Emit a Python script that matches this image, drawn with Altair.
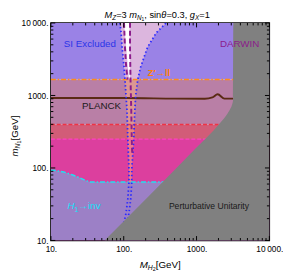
import altair as alt
import pandas as pd

W, H = 224, 223
FONT = "Liberation Sans"

# ---------------- data (GeV) ----------------
x_dom = [10, 10000]
y_dom = [10, 10000]

# horizontal exclusion bands in m_N1
band_lo = [1659, 399, 250, 10]
band_hi = [10000, 1659, 399, 250]
band_col = ["#9a82e6", "#b97fa6", "#d25c78", "#dc3f9e"]

# H1 -> inv boundary
inv_x = [10, 11, 15, 20, 25, 30, 35, 10000]
inv_y = [93, 93, 88, 80, 73, 67, 64, 64]

# resonance funnel (blue dotted SI boundaries)
fun_y = [10000, 7337, 4610, 2481, 1659, 1000, 616, 243, 96, 64, 37.9, 23.8, 15, 10]
fun_xl = [89, 92, 95, 101, 104, 107.5, 111, 114, 118, 118, 114, 107.5, 98, 89]
fun_xr = [380, 280, 212, 171, 156, 146, 142, 137, 129, 129, 125, 118, 107.5, 98]

# white strip inside the funnel
strip_y = [10000, 4610, 1659]
strip_xl = [101, 108, 118]
strip_xr = [120, 121, 122]

# DARWIN dashed curves
dar1_x = [101, 104, 108, 113]
dar1_y = [10000, 4610, 2481, 1659]
dar2_x = [122, 122, 124, 127, 129, 131]
dar2_y = [10000, 4610, 1659, 616, 243, 150]

# PLANCK line
planck_x = [10, 100, 500, 1300, 1650, 1950, 2420, 3200]
planck_y = [921, 921, 905, 900, 940, 1040, 905, 905]

# horizontal bounds
zll_y = 1659
red_y = 399
mag_y = 250

# perturbative unitarity boundary
pu_x = [54.6, 205, 960, 2075, 2655, 2900, 3080, 3170, 3195, 3200, 10000]
pu_y = [10, 37.9, 184, 411, 561, 650, 750, 850, 950, 10000, 10000]

major = [10, 100, 1000, 10000]
minor = [m * d for d in (10, 100, 1000) for m in range(2, 10)]

# ---------------- helpers ----------------
xs = alt.Scale(type="log", domain=x_dom, nice=False)
ys = alt.Scale(type="log", domain=y_dom, nice=False)
lab_expr = "datum.value == 10000 ? '10\u2009000.' : datum.value + '.'"
xaxis = alt.Axis(values=major, labelExpr=lab_expr, ticks=False, domain=False, grid=False,
                 title=None, labelFontSize=8.5, labelFont=FONT, labelColor="black",
                 labelPadding=4, labelFlush=False)
yaxis = alt.Axis(values=major, labelExpr=lab_expr, ticks=False, domain=False, grid=False,
                 title=None, labelFontSize=8.5, labelFont=FONT, labelColor="black",
                 labelPadding=3, labelFlush=False)


def X(f):
    return alt.X(f, type="quantitative", scale=xs, axis=xaxis)


def Y(f):
    return alt.Y(f, type="quantitative", scale=ys, axis=yaxis)


layers = []

# bands
bands = pd.DataFrame({"lo": band_lo, "hi": band_hi, "c": band_col,
                      "x0": [x_dom[0]] * 4, "x1": [x_dom[1]] * 4})
layers.append(alt.Chart(bands).mark_rect(clip=True).encode(
    x=X("x0"), x2="x1", y=Y("lo"), y2="hi", color=alt.Color("c:N", scale=None)))

# H1->inv region
inv = pd.DataFrame({"x": inv_x, "y": inv_y, "b": [10] * len(inv_x)})
layers.append(alt.Chart(inv).mark_area(color="#9c80c6", clip=True).encode(
    x=X("x"), y=Y("y"), y2="b"))

# funnel fills
fun = pd.DataFrame({"y": fun_y, "xl": fun_xl, "xr": fun_xr})
fun_up = fun[fun.y >= 1659]
fun_lo = fun[(fun.y <= 1659) & (fun.y >= 64)]
layers.append(alt.Chart(fun_up).mark_area(orient="horizontal", color="#dcb6de", clip=True).encode(
    y=Y("y"), x=X("xl"), x2="xr"))
layers.append(alt.Chart(fun_lo).mark_area(orient="horizontal", color="#ffb080", opacity=0.5,
                                          clip=True).encode(y=Y("y"), x=X("xl"), x2="xr"))
strip = pd.DataFrame({"y": strip_y, "xl": strip_xl, "xr": strip_xr})
layers.append(alt.Chart(strip).mark_area(orient="horizontal", color="white", clip=True).encode(
    y=Y("y"), x=X("xl"), x2="xr"))


# horizontal bound lines
def hline(yv, color, dash, width=1.5):
    d = pd.DataFrame({"x": x_dom, "y": [yv, yv]})
    return alt.Chart(d).mark_line(color=color, strokeDash=dash, strokeWidth=width, clip=True).encode(
        x=X("x"), y=Y("y"))


layers.append(hline(red_y, "#ee3344", [4, 2]))
layers.append(hline(mag_y, "#ff40c0", [4, 2]))
layers.append(hline(zll_y, "#ff8c1a", [5, 2, 1.5, 2]))

# H1->inv line
layers.append(alt.Chart(inv).mark_line(color="#20e0f0", strokeDash=[5, 2, 1.5, 2], strokeWidth=1.5,
                                       clip=True).encode(x=X("x"), y=Y("y")))

# PLANCK
pl = pd.DataFrame({"x": planck_x, "y": planck_y})
layers.append(alt.Chart(pl).mark_line(color="#5a2a14", strokeWidth=2, interpolate="monotone",
                                      clip=True).encode(x=X("x"), y=Y("y")))

# funnel dotted boundaries
for col in ("xl", "xr"):
    d = pd.DataFrame({"y": fun_y, "x": fun[col], "o": range(len(fun_y))})
    layers.append(alt.Chart(d).mark_line(color="#2a2aff", strokeDash=[1.5, 2.5], strokeWidth=1.8,
                                         clip=True).encode(x=X("x"), y=Y("y"), order="o:Q"))

# DARWIN dashed
for xx, yy in ((dar1_x, dar1_y), (dar2_x, dar2_y)):
    d = pd.DataFrame({"x": xx, "y": yy, "o": range(len(xx))})
    layers.append(alt.Chart(d).mark_line(color="#8b1c8b", strokeDash=[5, 3], strokeWidth=2,
                                         clip=True).encode(x=X("x"), y=Y("y"), order="o:Q"))

# perturbative unitarity
pu = pd.DataFrame({"x": pu_x, "y": pu_y, "b": [10] * len(pu_x)})
layers.append(alt.Chart(pu).mark_area(color="#808080", interpolate="monotone", clip=True).encode(
    x=X("x"), y=Y("y"), y2="b"))

# ticks (inside, all four sides)
for vals, ln in ((major, 4.5), (minor, 2.5)):
    d = pd.DataFrame({"v": vals})
    layers.append(alt.Chart(d).mark_rule(color="black", strokeWidth=1).encode(
        x=X("v"), y=alt.value(H), y2=alt.value(H - ln)))
    layers.append(alt.Chart(d).mark_rule(color="black", strokeWidth=1).encode(
        x=X("v"), y=alt.value(0), y2=alt.value(ln)))
    layers.append(alt.Chart(d).mark_rule(color="black", strokeWidth=1).encode(
        y=Y("v"), x=alt.value(0), x2=alt.value(ln)))
    layers.append(alt.Chart(d).mark_rule(color="black", strokeWidth=1).encode(
        y=Y("v"), x=alt.value(W), x2=alt.value(W - ln)))


# in-plot annotations (data coordinates)
def dtext(s, x, y, color, size=10, align="center", italic=False, weight="normal"):
    d = pd.DataFrame({"x": [x], "y": [y], "t": [s]})
    return alt.Chart(d).mark_text(font=FONT, fontSize=size, color=color, align=align,
                                  baseline="middle", fontWeight=weight,
                                  fontStyle="italic" if italic else "normal").encode(
        x=X("x"), y=Y("y"), text="t:N")


layers.append(dtext("SI Excluded", 34.3, 5060, "#2b35e8"))
layers.append(dtext("DARWIN", 3900, 5140, "#8b1c8b"))
layers.append(dtext("Z\u2032\u2192ll", 214, 2060, "#ff8000", size=9.5, align="left", weight="bold"))
layers.append(dtext("PLANCK", 49.7, 718, "#1a1a1a"))
layers.append(dtext("Perturbative Unitarity", 1480, 29.6, "#1a1a1a", size=8.8))

# rich text (pixel positions, relative to plot origin)
AW = {"M": .833, "Z": .611, "=": .584, "3": .556, " ": .278, "m": .833, "N": .722, "1": .556,
      ",": .278, "s": .5, "i": .222, "n": .556, "\u03b8": .556, "0": .556, ".": .278, "g": .556,
      "X": .667, "[": .278, "G": .778, "e": .556, "V": .667, "]": .278, "H": .722, "2": .556,
      "\u2192": 1.0, "v": .5}


def tw(s, size):
    return sum(AW.get(c, .556) for c in s) * size


def rich(pieces, x0, y0, color="black", angle=0):
    out = []
    pos = 0.0
    for s, size, italic, dy in pieces:
        if angle == 0:
            px, py = x0 + pos, y0 + dy
        else:
            px, py = x0 + dy, y0 - pos
        d = pd.DataFrame({"t": [s]})
        kw = dict(font=FONT, fontSize=size, color=color, align="left", baseline="alphabetic",
                  fontStyle="italic" if italic else "normal")
        if angle:
            kw["angle"] = angle
        out.append(alt.Chart(d).mark_text(**kw).encode(x=alt.value(px), y=alt.value(py), text="t:N"))
        pos += tw(s, size)
    return out


T, S, SS = 9.5, 6.5, 5
layers += rich([("M", T, True, 0), ("Z", S, True, 2), ("=3 ", T, False, 0), ("m", T, True, 0),
                ("N", S, True, 2), ("1", SS, False, 3), (", sin", T, False, 0),
                ("\u03b8", T, True, 0), ("=0.3, ", T, False, 0), ("g", T, True, 0),
                ("X", S, True, 2), ("=1", T, False, 0)], 55, -5)
layers += rich([("M", 10, True, 0), ("H", 7, True, 2.5), ("2", 5.5, False, 3.5),
                ("[GeV]", 10, False, 0)], 91, 251)
layers += rich([("m", 10, True, 0), ("N", 7, True, 2.5), ("1", 5.5, False, 3.5),
                (" [GeV]", 10, False, 0)], -34, 137, angle=270)
layers += rich([("H", 10, True, 0), ("1", 7, False, 2.5), ("\u2192inv", 10, False, 0)], 17, 191,
               color="#12e0f8")

chart = alt.layer(*layers).properties(
    width=W, height=H,
    autosize=alt.AutoSizeParams(type="none"),
    padding={"left": 44, "top": 12, "right": 14, "bottom": 30},
).configure_view(stroke="black", strokeWidth=1.5)

chart.save("out.html", embed_options={"renderer": "svg", "actions": False})
